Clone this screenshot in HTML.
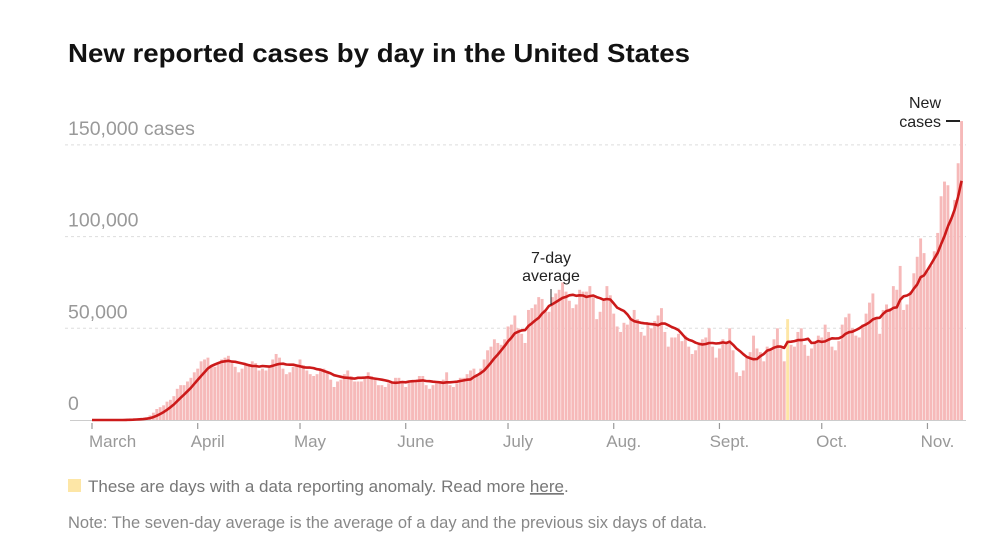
<!DOCTYPE html>
<html><head><meta charset="utf-8"><style>
body{margin:0;background:#fff;width:986px;height:544px;overflow:hidden;font-family:"Liberation Sans",sans-serif}
</style></head><body>
<svg id="chart" width="986" height="544" viewBox="0 0 986 544" xmlns="http://www.w3.org/2000/svg" font-family="Liberation Sans, sans-serif">
<text x="68" y="62" font-size="26" font-weight="bold" fill="#121212" textLength="622" lengthAdjust="spacingAndGlyphs">New reported cases by day in the United States</text>
<g id="grid"></g><g id="bars"></g><g id="line"></g><g id="xaxis"></g>
<g>
<text x="551" y="263" font-size="16" text-anchor="middle" fill="#222">7-day</text>
<text x="551" y="281" font-size="16" text-anchor="middle" fill="#222">average</text>
<line x1="551" y1="289" x2="551" y2="305" stroke="#222" stroke-width="1"/>
</g>
<g>
<text x="941" y="108" font-size="16" text-anchor="end" fill="#222">New</text>
<text x="941" y="127" font-size="16" text-anchor="end" fill="#222">cases</text>
<line x1="946" y1="121" x2="960" y2="121" stroke="#222" stroke-width="2"/>
</g>
<rect x="68" y="479" width="13" height="13" fill="#fde6a6"/>
<text x="88" y="492" font-size="17" fill="#777">These are days with a data reporting anomaly. Read more <tspan text-decoration="underline">here</tspan>.</text>
<text x="68" y="528" font-size="16.5" fill="#888">Note: The seven-day average is the average of a day and the previous six days of data.</text>
</svg>
<script>
const daily = [
0,0,0,0,0,0,0,0,0,0,0.3,0.4,0.5,0.6,0.8,1,1.5,2.5,4,6,7,8,10,11,13,17,19,19,21,23,26,
28,32,33,34,30,29,31,33,34,35,31,29,26,28,30,30,32,31,27,28,27,29,33,36,34,28,25,26,29,30,
33,30,27,25,24,25,28,28,26,22,18,21,22,25,27,24,21,21,21,23,26,24,22,19,19,18,20,21,23,23,21,
18,21,21,22,24,24,19,17,19,20,21,22,26,19,18,20,23,23,25,27,28,25,28,33,38,40,44,42,41,44,
51,52,57,50,47,42,60,61,63,67,66,59,59,67,69,71,75,70,65,61,63,71,70,70,73,67,55,59,65,73,68,
58,51,48,53,52,55,60,55,48,46,52,50,54,57,61,48,40,45,45,47,43,46,40,36,38,41,44,45,50,40,34,
39,44,42,50,38,26,24,27,34,37,46,39,37,32,40,38,44,50,39,32,55,41,40,48,50,41,35,39,42,46,
45,52,48,40,38,43,52,56,58,50,46,45,52,58,64,69,55,47,60,63,61,73,71,84,60,63,70,80,89,99,91,
81,84,92,102,122,130,128,110,120,140,163
];
const anomalyDays = [204];
const yTicks = [0,50,100,150];
const yTickLabels = ["0","50,000","100,000","150,000 cases"];
const monthLabels = ["March","April","May","June","July","Aug.","Sept.","Oct.","Nov."];
const monthStartDays = [0,31,61,92,122,153,184,214,245];

const NS="http://www.w3.org/2000/svg";
const x0=92, dx=3.41, y0=420, ky=1.834;
const X=i=>x0+i*dx, Y=v=>y0-v*ky;
function mk(tag,attrs,parent){const e=document.createElementNS(NS,tag);for(const k in attrs)e.setAttribute(k,attrs[k]);parent.appendChild(e);return e;}
const grid=document.getElementById('grid'), bars=document.getElementById('bars'), line=document.getElementById('line'), xa=document.getElementById('xaxis');
yTicks.forEach((t,i)=>{
  if(t>0){const l=mk('line',{x1:65,x2:966,y1:Y(t),y2:Y(t),stroke:'#ddd','stroke-dasharray':'3,3'},grid);
  
  }
  const tx=mk('text',{x:68,y:Y(t)-10,'font-size':19.5,fill:'#999'},grid);
  tx.textContent=yTickLabels[i];
  
  
});
const base=mk('line',{x1:70,x2:966,y1:y0+0.5,y2:y0+0.5,stroke:'#ccc'},grid);


daily.forEach((v,i)=>{
  const an=anomalyDays.includes(i);
  const r=mk('rect',{x:X(i)-1.45,y:Y(v),width:2.9,height:Math.max(0,v*ky),fill:an?'#fde6a6':'#f6b9b9'},bars);
  
  
});
let pts=[];
daily.forEach((v,i)=>{const s=daily.slice(Math.max(0,i-6),i+1);const a=s.reduce((p,c)=>p+c,0)/s.length;pts.push(X(i).toFixed(1)+','+Y(a).toFixed(1));});
const pl=mk('polyline',{points:pts.join(' '),fill:'none',stroke:'#cc1a1a','stroke-width':2.6,'stroke-linejoin':'round'},line);


monthLabels.forEach((m,i)=>{
  const x=X(monthStartDays[i]);
  const tk=mk('line',{x1:x,x2:x,y1:423,y2:429,stroke:'#999','stroke-width':1.2},xa);
  
  
  const t=mk('text',{x:i==0?x-3:x+10,y:447,'font-size':17,fill:'#999','text-anchor':i==0?'start':'middle'},xa);
  t.textContent=m;
  
  
});
</script>
</body></html>
